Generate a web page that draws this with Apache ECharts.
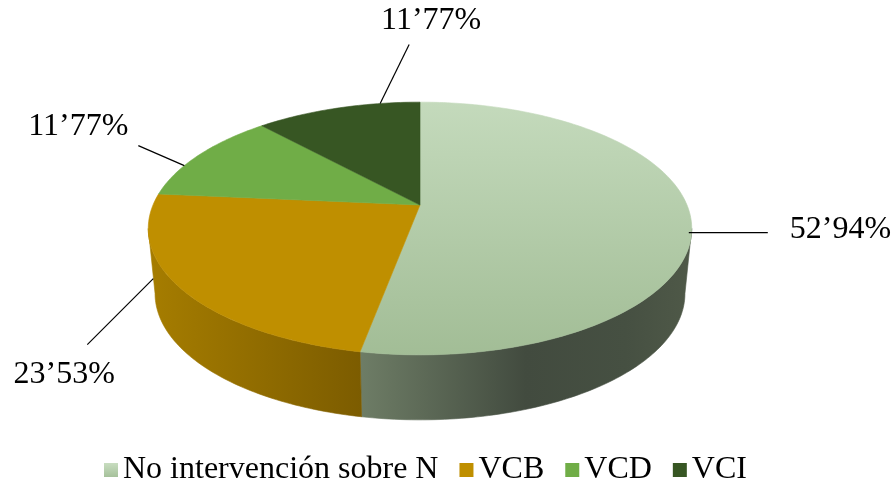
<!DOCTYPE html>
<html>
<head>
<meta charset="utf-8">
<script src="https://cdn.jsdelivr.net/npm/echarts@6/dist/echarts.min.js"></script>
<style>
  html, body { margin: 0; padding: 0; background: #fff; }
  #main { width: 895px; height: 495px; }
</style>
</head>
<body>
<div id="main"></div>
<script>
// datos del gráfico
const categories = ['No intervención sobre N', 'VCB', 'VCD', 'VCI'];
const values = [52.94, 23.53, 11.77, 11.77];

// estilos (colores de cara superior, lateral y leyenda)
const topColors = [
  new echarts.graphic.LinearGradient(0, 0, 0, 1, [
    { offset: 0, color: '#c4dabc' },
    { offset: 1, color: '#a2bd96' }
  ]),
  '#bf8f00', '#70ad47', '#375623'
];
const sideColors = [
  new echarts.graphic.LinearGradient(0, 0, 1, 0, [
    { offset: 0, color: '#6e7d66' },
    { offset: 0.5, color: '#424b3f' },
    { offset: 0.8, color: '#465042' },
    { offset: 1, color: '#4f5948' }
  ]),
  new echarts.graphic.LinearGradient(0, 0, 1, 0, [
    { offset: 0, color: '#a67d00' },
    { offset: 1, color: '#7c5c00' }
  ]),
  '#4f7a32', '#263c18'
];
const legendColors = [
  new echarts.graphic.LinearGradient(0, 0, 0, 1, [
    { offset: 0, color: '#c8ddc0' },
    { offset: 1, color: '#a6c19b' }
  ]),
  '#bf8f00', '#70ad47', '#375623'
];

// posición de etiquetas: f = fracción del sector, depth = fracción del grosor
const labelLayout = [
  { f: 0.5, depth: 0.25, dx: 79, dy: 0, tx: 22, ty: -3, align: 'left' },
  { f: 0.76, depth: 0.62, dx: -66, dy: 66, tx: -23, ty: 30, align: 'center' },
  { f: 0.35, depth: 0, dx: -46, dy: -20, tx: -60, ty: -19, align: 'center' },
  { f: 0.76, depth: 0, dx: 29, dy: -59, tx: 22, ty: -24, align: 'center' }
];

// geometría de la tarta 3D (perspectiva)
const CX = 420, CY = 205, A = 267, B = 122, K = 0.186, D = 65, A2 = A * 0.975;
const VIS1 = Math.acos(-K) * 180 / Math.PI;
const VIS2 = 360 - VIS1;
const FONT = '"Liberation Serif", "Times New Roman", serif';

const total = values.reduce((s, v) => s + v, 0);
const starts = [];
values.reduce((acc, v, i) => { starts[i] = acc; return acc + v / total * 360; }, 0);

function proj(deg, lvl) {
  const t = deg * Math.PI / 180;
  const s = Math.sin(t), c = Math.cos(t);
  const den = 1 + K * c;
  const a = A + (A2 - A) * lvl;
  return [CX + a * s / den, CY + lvl * D - B * c / den];
}

function arc(a1, a2, lvl) {
  const pts = [];
  const n = Math.max(2, Math.ceil(Math.abs(a2 - a1)));
  for (let j = 0; j <= n; j++) pts.push(proj(a1 + (a2 - a1) * j / n, lvl));
  return pts;
}

function fmt(v) {
  return v.toFixed(2).replace('.', '\u2019') + '%';
}

function makeSeries(i) {
  return {
    type: 'custom',
    name: categories[i],
    coordinateSystem: 'none',
    silent: true,
    animation: false,
    itemStyle: { color: legendColors[i] },
    data: [values[i]],
    renderItem: function (params, api) {
      const a1 = starts[i];
      const a2 = a1 + values[i] / total * 360;
      const children = [];
      const s = Math.max(a1, VIS1), e = Math.min(a2, VIS2);
      if (e > s) {
        const pts = arc(s, e, 0).concat(arc(e, s, 1));
        children.push({
          type: 'polygon', z2: 1,
          shape: { points: pts },
          style: { fill: sideColors[i], stroke: sideColors[i], lineWidth: 0.6 }
        });
      }
      children.push({
        type: 'polygon', z2: 10,
        shape: { points: [[CX, CY]].concat(arc(a1, a2, 0)) },
        style: { fill: topColors[i], stroke: topColors[i], lineWidth: 0.6 }
      });
      const lay = labelLayout[i];
      const p = proj(a1 + (a2 - a1) * lay.f, lay.depth);
      const ex = p[0] + lay.dx, ey = p[1] + lay.dy;
      children.push({
        type: 'line', z2: 50,
        shape: { x1: p[0], y1: p[1], x2: ex, y2: ey },
        style: { stroke: '#000', lineWidth: 1.2 }
      });
      children.push({
        type: 'text', z2: 50,
        x: ex + lay.tx, y: ey + lay.ty,
        style: {
          text: fmt(values[i]), fill: '#000',
          font: '32px ' + FONT,
          align: lay.align, verticalAlign: 'middle'
        }
      });
      return { type: 'group', children: children };
    }
  };
}

var chartDom = document.getElementById('main');
var myChart = echarts.init(chartDom);
var option = {
  animation: false,
  legend: {
    left: 99,
    top: 449,
    icon: 'rect',
    itemWidth: 14,
    itemHeight: 14,
    itemGap: 21,
    selectedMode: false,
    textStyle: { color: '#000', fontSize: 32, fontFamily: FONT },
    data: categories
  },
  series: categories.map((c, i) => makeSeries(i))
};
option && myChart.setOption(option);
</script>
</body>
</html>
